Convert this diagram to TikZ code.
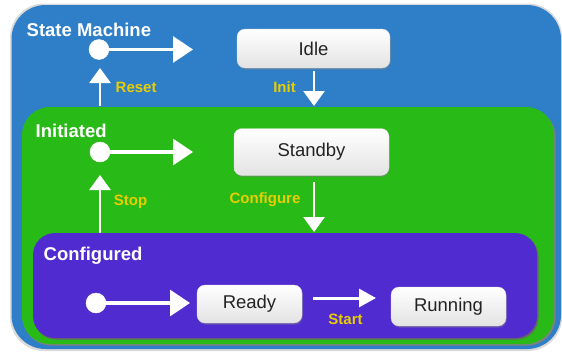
\documentclass[tikz,border=0pt]{standalone}
\usepackage{fontspec}
\setmainfont{Liberation Sans}
\usetikzlibrary{arrows.meta,shadows}
\definecolor{smblue}{RGB}{47,127,200}
\definecolor{ingreen}{RGB}{40,186,22}
\definecolor{cfpurple}{RGB}{80,44,208}
\definecolor{lblyellow}{RGB}{232,206,0}
\definecolor{txtdark}{RGB}{35,35,35}
\tikzset{
  statebox/.style={rectangle, rounded corners=8pt, top color=white, bottom color=gray!22,
    draw=gray!30, line width=0.3pt, text=txtdark, font=\fontsize{18.5}{20}\selectfont,
    inner sep=0pt, drop shadow={shadow xshift=0.8pt, shadow yshift=-1.6pt, opacity=0.45}},
  initdot/.style={circle, fill=white, draw=white, minimum size=20pt, inner sep=0pt},
  chalk/.style={draw=white, line width=3.2pt},
  bighead/.style={chalk, -{Triangle[length=20pt,width=26pt]}, shorten <=-1pt},
  midhead/.style={chalk, line width=2.8pt, -{Triangle[length=15pt,width=21pt]}},
  smallhead/.style={chalk, line width=3pt, -{Triangle[length=17pt,width=18pt]}},
  title/.style={text=white, font=\bfseries\fontsize{18.5}{20}\selectfont, inner sep=0pt, anchor=west},
  evlabel/.style={text=lblyellow, font=\bfseries\fontsize{15}{17}\selectfont, inner sep=0pt}
}
\begin{document}
\begin{tikzpicture}[x=1pt,y=-1pt]
\useasboundingbox (0,0) rectangle (562,351);
% containers
\fill[white] (0,0) rectangle (562,351);
\fill[gray!28, rounded corners=34pt] (10,3.5) rectangle (562,351);
\fill[smblue, rounded corners=34pt] (11.5,5) rectangle (561,349);
\fill[black!50, rounded corners=28pt] (23,108.5) rectangle (555.5,345.5);
\fill[ingreen, rounded corners=28pt] (22,107) rectangle (554,344);
\fill[black!60, rounded corners=22pt] (34,234.5) rectangle (538.5,339.5);
\fill[cfpurple, rounded corners=22pt] (33,233) rectangle (537,338);
% titles
\node[title] (tsm) at (26.5,30) {State Machine};
\node[title] (tin) at (35.5,131) {Initiated};
\node[title] (tcf) at (43.5,256) {Configured};
% states
\node[statebox, minimum width=153pt, minimum height=39pt] (idle) at (313.5,48.5) {Idle};
\node[statebox, minimum width=155pt, minimum height=47pt] (standby) at (311.5,152) {Standby};
\node[statebox, minimum width=105pt, minimum height=38pt] (ready) at (249.5,304) {Ready};
\node[statebox, minimum width=115pt, minimum height=39pt] (running) at (448.5,306.5) {Running};
% initial pseudo states
\node[initdot] (d1) at (99,49.5) {};
\node[initdot] (d2) at (100,152) {};
\node[initdot] (d3) at (96,303) {};
% arrow end coordinates
\coordinate (e1) at (193,49.5);
\coordinate (e2) at (193,152);
\coordinate (e3) at (190,303);
\coordinate (rs0) at (100,106);
\coordinate (rs1) at (100,68);
\coordinate (in0) at (314,71);
\coordinate (in1) at (314,106);
\coordinate (cf0) at (314,182);
\coordinate (cf1) at (314,232);
\coordinate (st0) at (100,233);
\coordinate (st1) at (100,175);
\coordinate (sa0) at (313,298);
\coordinate (sa1) at (376,298);
% connectors
\draw[bighead] (d1) -- (e1);
\draw[bighead] (d2) -- (e2);
\draw[bighead] (d3) -- (e3);
\draw[midhead] (rs0) -- (rs1);
\draw[midhead] (in0) -- (in1);
\draw[midhead] (cf0) -- (cf1);
\draw[midhead] (st0) -- (st1);
\draw[smallhead] (sa0) -- (sa1);
% event labels
\node[evlabel, anchor=west] (lreset) at (115.5,87) {Reset};
\node[evlabel] (linit) at (284.5,87) {Init};
\node[evlabel] (lstop) at (130.5,201.5) {Stop};
\node[evlabel] (lconf) at (265,199.5) {Configure};
\node[evlabel] (lstart) at (345.5,319.5) {Start};
\end{tikzpicture}
\end{document}
